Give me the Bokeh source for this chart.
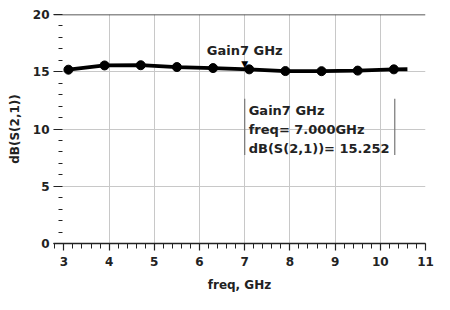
from bokeh.plotting import figure
from bokeh.models import (Range1d, SingleIntervalTicker, FixedTicker, Span, Label)
from bokeh.embed import file_html
from bokeh.resources import INLINE

# ---- data ----
freq = [3.1, 3.9, 4.7, 5.5, 6.3, 7.1, 7.9, 8.7, 9.5, 10.3, 10.6]
gain = [15.18, 15.55, 15.57, 15.41, 15.32, 15.21, 15.06, 15.05, 15.10, 15.21, 15.22]
marker_points = 10  # symbols drawn on the first 10 sweep points
marker_name = "Gain7 GHz"
marker_freq = 7.0
marker_val = 15.252
x_grid = [4, 5, 6, 7, 8, 9, 10]
y_grid = [5, 10, 15]

FONT = "DejaVu Sans"
DARK = "#222222"

p = figure(width=434, height=294, x_range=Range1d(2.77, 11.0), y_range=Range1d(0, 20),
           output_backend="svg", toolbar_location=None,
           min_border_left=53, min_border_right=9, min_border_top=14, min_border_bottom=50)
p.outline_line_color = None
p.background_fill_color = "white"

# x axis
xa = p.xaxis[0]
xa.ticker = SingleIntervalTicker(interval=1, num_minor_ticks=5)
xa.axis_line_color = DARK
xa.axis_line_width = 1.5
xa.major_tick_line_color = DARK
xa.major_tick_line_width = 1.2
xa.major_tick_out = 7
xa.major_tick_in = 0
xa.minor_tick_line_color = DARK
xa.minor_tick_out = 5
xa.minor_tick_in = 0
xa.major_label_standoff = 6
xa.major_label_text_font = FONT
xa.major_label_text_font_style = "bold"
xa.major_label_text_font_size = "12px"
xa.major_label_text_color = DARK
xa.axis_label = "freq, GHz"
xa.axis_label_text_font = FONT
xa.axis_label_text_font_style = "bold"
xa.axis_label_text_font_size = "12px"
xa.axis_label_text_color = DARK
xa.axis_label_standoff = 9

# y axis
ya = p.yaxis[0]
ya.ticker = SingleIntervalTicker(interval=5, num_minor_ticks=5)
ya.axis_line_color = None
ya.major_tick_line_color = DARK
ya.major_tick_line_width = 1.2
ya.major_tick_in = 6
ya.major_tick_out = 0
ya.minor_tick_line_color = DARK
ya.minor_tick_line_width = 1.2
ya.minor_tick_in = 10
ya.minor_tick_out = 0
ya.minor_tick_line_dash = "0 5 4 20"
ya.major_label_standoff = 4
ya.major_label_text_font = FONT
ya.major_label_text_font_style = "bold"
ya.major_label_text_font_size = "12px"
ya.major_label_text_color = DARK
ya.axis_label = "dB(S(2,1))"
ya.axis_label_text_font = FONT
ya.axis_label_text_font_style = "bold"
ya.axis_label_text_font_size = "12px"
ya.axis_label_text_color = DARK
ya.axis_label_standoff = 8

# grids
p.xgrid.ticker = FixedTicker(ticks=x_grid)
p.ygrid.ticker = FixedTicker(ticks=y_grid)
p.xgrid.grid_line_color = "#c8c8c8"
p.ygrid.grid_line_color = "#c8c8c8"
p.add_layout(Span(location=20, dimension="width", line_color=DARK, line_width=1.5))

# trace
p.line(freq, gain, line_color="black", line_width=3.8)
p.scatter(freq[:marker_points], gain[:marker_points], size=9, marker="circle",
          fill_color="black", line_color="black")

# marker
p.add_layout(Label(x=marker_freq, y=marker_val, text="\u25bc", text_align="center",
                   text_baseline="bottom", text_font="DejaVu Sans", text_font_size="9px",
                   text_color="black", y_offset=0))
p.add_layout(Label(x=marker_freq, y=marker_val, text=marker_name, text_align="center",
                   text_baseline="bottom", text_font=FONT, text_font_style="bold",
                   text_font_size="13px", text_color=DARK, y_offset=11))

# readout box (left/right rules + text)
box_top, box_bottom, box_right = 12.65, 7.72, marker_freq + 3.32
p.segment(x0=[marker_freq, box_right], y0=[box_top, box_top],
          x1=[marker_freq, box_right], y1=[box_bottom, box_bottom],
          line_color="#777777", line_width=1.2)
readout = f"{marker_name}\nfreq= {marker_freq:.3f}GHz\ndB(S(2,1))= {marker_val:.3f}"
p.add_layout(Label(x=marker_freq, y=box_top, text=readout, text_align="left",
                   text_baseline="top", text_font=FONT, text_font_style="bold",
                   text_font_size="13px", text_color=DARK, text_line_height=1.27,
                   x_offset=4, y_offset=-4))

open("out.html", "w").write(file_html(p, INLINE))
